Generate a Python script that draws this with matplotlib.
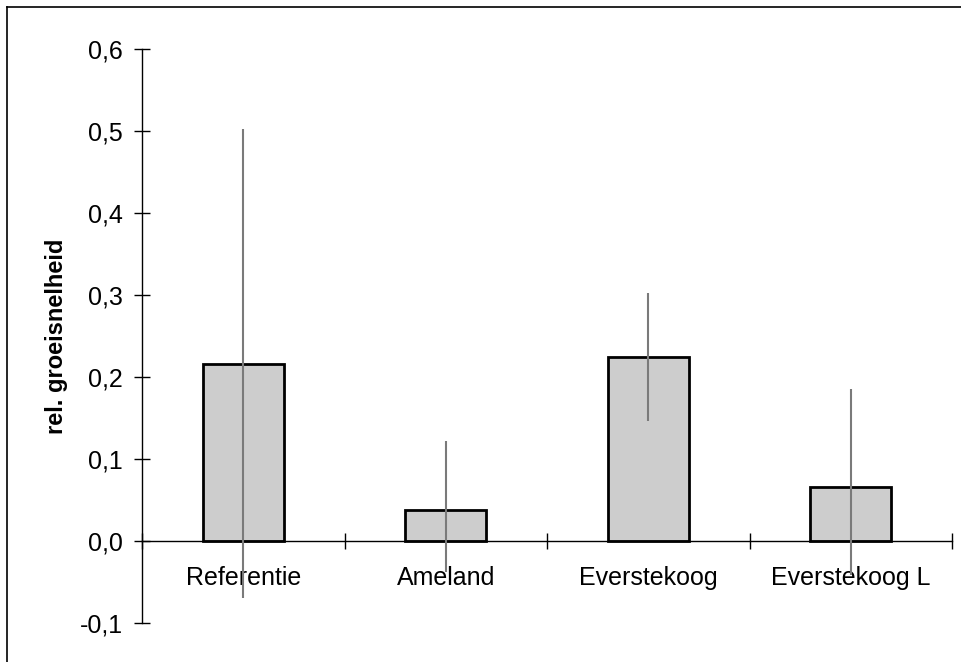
import matplotlib.pyplot as plt
from matplotlib.lines import Line2D

plt.rcParams['font.family'] = ['Liberation Sans', 'DejaVu Sans']

# groeisnelheid per herkomst, met spreiding (onder / boven)
herkomst = ['Referentie', 'Ameland', 'Everstekoog', 'Everstekoog L']
groei = [0.216, 0.038, 0.224, 0.066]
fout_onder = [0.286, 0.076, 0.078, 0.107]
fout_boven = [0.286, 0.084, 0.078, 0.119]

y_ticks = [-0.1, 0.0, 0.1, 0.2, 0.3, 0.4, 0.5, 0.6]
y_labels = ['-0,1', '0,0', '0,1', '0,2', '0,3', '0,4', '0,5', '0,6']

fig = plt.figure(figsize=(9.62, 6.62), dpi=100)
ax = fig.add_axes([142 / 962, 39 / 662, 810 / 962, 574 / 662])

x = range(len(herkomst))
ax.bar(x, groei, width=0.4, color='#cdcdcd', edgecolor='black', linewidth=2.0, zorder=2)
ax.errorbar(x, groei, yerr=[fout_onder, fout_boven], fmt='none',
            ecolor='#7a7a7a', elinewidth=1.5, capsize=0, zorder=4)

ax.set_xlim(-0.5, len(herkomst) - 0.5)
ax.set_ylim(-0.1, 0.6)

# assen in Excel-stijl: x-as op nul, streepjes door de as heen
for kant in ['top', 'right']:
    ax.spines[kant].set_visible(False)
ax.spines['bottom'].set_position(('data', 0))
ax.spines['left'].set_linewidth(1.0)
ax.spines['bottom'].set_linewidth(1.0)

ax.set_yticks(y_ticks)
ax.set_yticklabels(y_labels)
ax.tick_params(axis='y', direction='inout', length=12, width=1.0, pad=8, labelsize=18)

ax.set_xticks([i - 0.5 for i in range(len(herkomst) + 1)])
ax.set_xticklabels([])
ax.set_xticks(list(x), minor=True)
ax.set_xticklabels(herkomst, minor=True)
ax.tick_params(axis='x', which='major', direction='inout', length=12, width=1.0)
ax.tick_params(axis='x', which='minor', length=0, pad=18, labelsize=18)

ax.set_ylabel('rel. groeisnelheid', fontsize=17, fontweight='bold')
ax.yaxis.set_label_coords(-0.091, 0.5)

# kader rond de figuur
fig.add_artist(Line2D([7.5 / 962, 1.0], [1 - 6.5 / 662, 1 - 6.5 / 662],
                      color='black', linewidth=1.2, transform=fig.transFigure))
fig.add_artist(Line2D([7.5 / 962, 7.5 / 962], [0.0, 1 - 6.5 / 662],
                      color='black', linewidth=1.2, transform=fig.transFigure))

fig.savefig('out.png', dpi=100)
